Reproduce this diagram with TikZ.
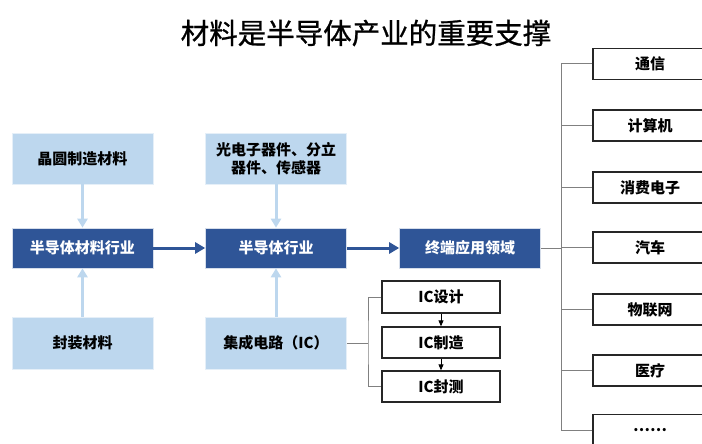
\documentclass[tikz,border=0pt]{standalone}
\usepackage{fontspec}
\setmainfont{Noto Sans CJK SC}
\newfontfamily\titlefont[FakeBold=0.8]{Noto Sans CJK SC}
\usetikzlibrary{arrows.meta}
\definecolor{dkblue}{HTML}{2F5597}
\definecolor{ltblue}{HTML}{BDD7EE}
\definecolor{lngray}{HTML}{808080}
\tikzset{
  darkbox/.style={fill=dkblue, draw=white!80!dkblue, line width=0.6pt, text=white, font=\fontsize{15}{18}\selectfont\bfseries, inner sep=0pt, minimum width=141pt, minimum height=40pt, align=center},
  lightbox/.style={fill=ltblue, draw=white!60!ltblue, line width=0.6pt, text=black, font=\fontsize{15}{18}\selectfont\bfseries, inner sep=0pt, minimum width=141pt, minimum height=51pt, align=center},
  outbox/.style={fill=white, draw=black!85, line width=1.3pt, text=black, font=\fontsize{15}{18}\selectfont\bfseries, inner sep=0pt, minimum width=114pt, minimum height=31pt},
  icbox/.style={outbox, minimum width=118pt},
  ltarrow/.style={draw=ltblue, line width=3pt, -{Triangle[width=10pt,length=9pt]}},
  dkarrow/.style={draw=dkblue, line width=3pt, -{Triangle[width=11pt,length=10pt]}},
  icarrow/.style={draw=black, line width=0.8pt, -{Triangle[width=5pt,length=6pt]}},
  conn/.style={draw=lngray, line width=1pt},
}
\begin{document}
\begin{tikzpicture}[x=1pt,y=-1pt]
\useasboundingbox (0,0) rectangle (702,444);
% title
\node[font=\titlefont\fontsize{28.5}{30}\selectfont] (title) at (366,33) {材料是半导体产业的重要支撑};
% left column
\node[lightbox] (wafer) at (82.5,158.5) {晶圆制造材料};
\node[darkbox] (matind) at (82.5,248) {半导体材料行业};
\node[lightbox, minimum height=52pt] (pack) at (82.5,343) {封装材料};
% middle column
\node[lightbox] (opto) at (276,158.5) {光电子器件、分立\\器件、传感器};
\node[darkbox] (semi) at (276,248) {半导体行业};
\node[lightbox, minimum height=52pt] (ic) at (276,343) {集成电路（IC）};
% terminal
\node[darkbox] (term) at (470,248) {终端应用领域};
% IC chain
\node[icbox, minimum height=32pt] (ic1) at (441,297) {IC设计};
\node[icbox] (ic2) at (441,342.5) {IC制造};
\node[icbox] (ic3) at (441,386.5) {IC封测};
% right column
\node[outbox] (r1) at (650,64) {通信};
\node[outbox] (r2) at (650,125.5) {计算机};
\node[outbox] (r3) at (650,187.5) {消费电子};
\node[outbox] (r4) at (650,247.5) {汽车};
\node[outbox] (r5) at (650,309.5) {物联网};
\node[outbox] (r6) at (650,370.5) {医疗};
\node[outbox] (r7) at (650,430) {……};
% arrows
\draw[ltarrow] (wafer.south) -- (matind.north);
\draw[ltarrow] (pack.north) -- (matind.south);
\draw[ltarrow] (opto.south) -- (semi.north);
\draw[ltarrow] (ic.north) -- (semi.south);
\draw[dkarrow] (matind.east) -- (semi.west);
\draw[dkarrow] (semi.east) -- (term.west);
\draw[icarrow] (ic1.south) -- (ic2.north);
\draw[icarrow] (ic2.south) -- (ic3.north);
% IC bracket
\coordinate (icsp) at (368,343);
\draw[conn] (ic.east) -- (icsp);
\draw[conn] (ic1.west) -| (icsp) |- (ic3.west);
% right bracket
\coordinate (rtop) at (561,64);
\coordinate (rbot) at (561,430);
\draw[conn] (rtop) -- (rbot);
\draw[conn] (term.east) -- (term.east -| rtop);
\foreach \n in {r1,r2,r3,r4,r5,r6,r7}{
  \draw[conn] (\n.west) -- (\n.west -| rtop);
}
\end{tikzpicture}
\end{document}
